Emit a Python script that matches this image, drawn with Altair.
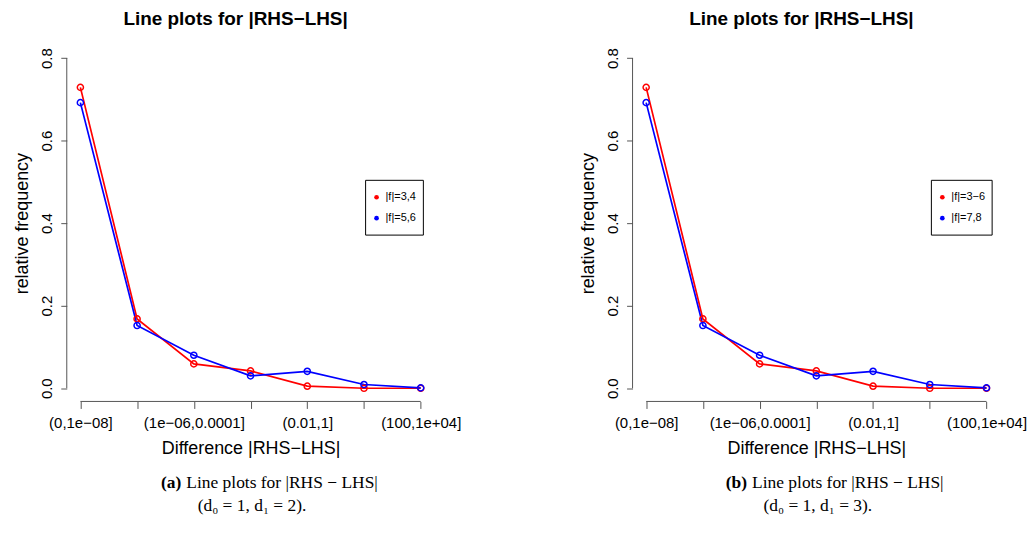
import altair as alt
import pandas as pd

# ---- data ----
bins = [1, 2, 3, 4, 5, 6, 7]
bin_labels = ["(0,1e−08]", "(1e−08,1e−06]", "(1e−06,0.0001]", "(0.0001,0.01]",
              "(0.01,1]", "(1,100]", "(100,1e+04]"]
left_red = [0.729, 0.168, 0.059, 0.042, 0.005, 0.000, 0.000]
left_blue = [0.692, 0.152, 0.080, 0.030, 0.041, 0.009, 0.001]
right_red = [0.729, 0.168, 0.059, 0.042, 0.005, 0.000, 0.000]
right_blue = [0.692, 0.152, 0.080, 0.030, 0.041, 0.009, 0.001]
left_series = ["|f|=3,4", "|f|=5,6"]
right_series = ["|f|=3−6", "|f|=7,8"]
colors = ["#ff0000", "#0000ff"]
y_ticks = [0.0, 0.2, 0.4, 0.6, 0.8]

W, H = 369, 358
SANS = "Liberation Sans"
SERIF = "Liberation Serif"

label_js = "[" + ",".join("'" + s + "'" for s in bin_labels) + "]"
label_expr = f"datum.value % 2 == 1 ? {label_js}[datum.value - 1] : ''"


def panel(red, blue, series, letter, d1, legend_w):
    df = pd.DataFrame({
        "bin": bins * 2,
        "value": red + blue,
        "series": [series[0]] * 7 + [series[1]] * 7,
    })
    xs = alt.Scale(domain=[0.76, 7.24], nice=False, zero=False)
    ys = alt.Scale(domain=[-0.032, 0.832], nice=False, zero=False)
    cs = alt.Scale(domain=series, range=colors)
    x = alt.X("bin:Q", scale=xs,
              axis=alt.Axis(values=bins, labelExpr=label_expr, domain=False, grid=False,
                            tickSize=7, tickColor="#555", labelFont=SANS, labelFontSize=15,
                            labelColor="#000", labelPadding=7, labelOverlap=False,
                            labelFlush=False,
                            title="Difference |RHS−LHS|", titleFont=SANS, titleFontSize=18,
                            titleFontWeight="normal", titleColor="#000", titlePadding=9))
    y = alt.Y("value:Q", scale=ys,
              axis=alt.Axis(values=y_ticks, format=".1f", domain=False, grid=False,
                            tickSize=6, tickColor="#555", labelFont=SANS, labelFontSize=15,
                            labelColor="#000", labelAngle=270, labelAlign="center",
                            labelBaseline="bottom", labelPadding=6,
                            title="relative frequency", titleFont=SANS, titleFontSize=18,
                            titleFontWeight="normal", titleColor="#000", titlePadding=8))
    color = alt.Color("series:N", scale=cs, legend=None)
    base = alt.Chart(df)
    lines = base.mark_line(strokeWidth=1.7).encode(x=x, y=y, color=color, detail="series:N")
    pts = base.mark_point(filled=False, size=38, strokeWidth=1.5, opacity=1).encode(
        x=x, y=y, color=color)

    one = alt.Chart(pd.DataFrame({"a": [0]}))
    xaxis_line = one.mark_rule(color="#555", strokeWidth=1).encode(
        x=alt.datum(1, scale=xs), x2=alt.datum(7), y=alt.value(H))
    yaxis_line = one.mark_rule(color="#555", strokeWidth=1).encode(
        y=alt.datum(0.0, scale=ys), y2=alt.datum(0.8), x=alt.value(0))

    # legend box
    lx, ly = 300, 136
    box = one.mark_rect(fill="white", stroke="black", strokeWidth=1).encode(
        x=alt.value(lx), x2=alt.value(lx + legend_w), y=alt.value(ly), y2=alt.value(ly + 55))
    leg_layers = [box]
    for i, (s, c) in enumerate(zip(series, colors)):
        ld = alt.Chart(pd.DataFrame({"label": [s]}))
        yy = ly + 17 + i * 21
        leg_layers.append(ld.mark_point(filled=True, size=22, color=c, opacity=1).encode(
            x=alt.value(lx + 11), y=alt.value(yy)))
        leg_layers.append(ld.mark_text(align="left", baseline="middle", font=SANS,
                                       fontSize=11, color="black").encode(
            x=alt.value(lx + 20), y=alt.value(yy), text="label:N"))

    cap = pd.DataFrame({"a": [0]})
    cap1a = alt.Chart(cap).mark_text(align="right", baseline="middle", font=SERIF,
                                      fontSize=17.5, fontWeight="bold", color="black").encode(
        x=alt.value(115), y=alt.value(440), text=alt.value(f"({letter})"))
    cap1b = alt.Chart(cap).mark_text(align="left", baseline="middle", font=SERIF,
                                      fontSize=17.5, color="black").encode(
        x=alt.value(120), y=alt.value(440), text=alt.value("Line plots for |RHS − LHS|"))
    cap2 = alt.Chart(cap).mark_text(align="center", baseline="middle", font=SERIF,
                                     fontSize=17.5, color="black").encode(
        x=alt.value(186), y=alt.value(463), text=alt.value(f"(d₀ = 1, d₁ = {d1})."))

    return alt.layer(xaxis_line, yaxis_line, lines, pts, *leg_layers, cap1a, cap1b, cap2).properties(
        width=W, height=H,
        title=alt.TitleParams("Line plots for |RHS−LHS|", font=SANS, fontSize=19,
                              fontWeight="bold", color="black", anchor="middle",
                              dx=-15, offset=16))


left = panel(left_red, left_blue, left_series, "a", 2, 58)
right = panel(right_red, right_blue, right_series, "b", 3, 61)

chart = alt.hconcat(left, right, spacing=199, bounds="flush").properties(
    padding={"left": 6, "top": 1, "right": 0, "bottom": 0}
).configure_view(stroke=None)

chart.save("out.html", embed_options={"renderer": "svg", "actions": False})
